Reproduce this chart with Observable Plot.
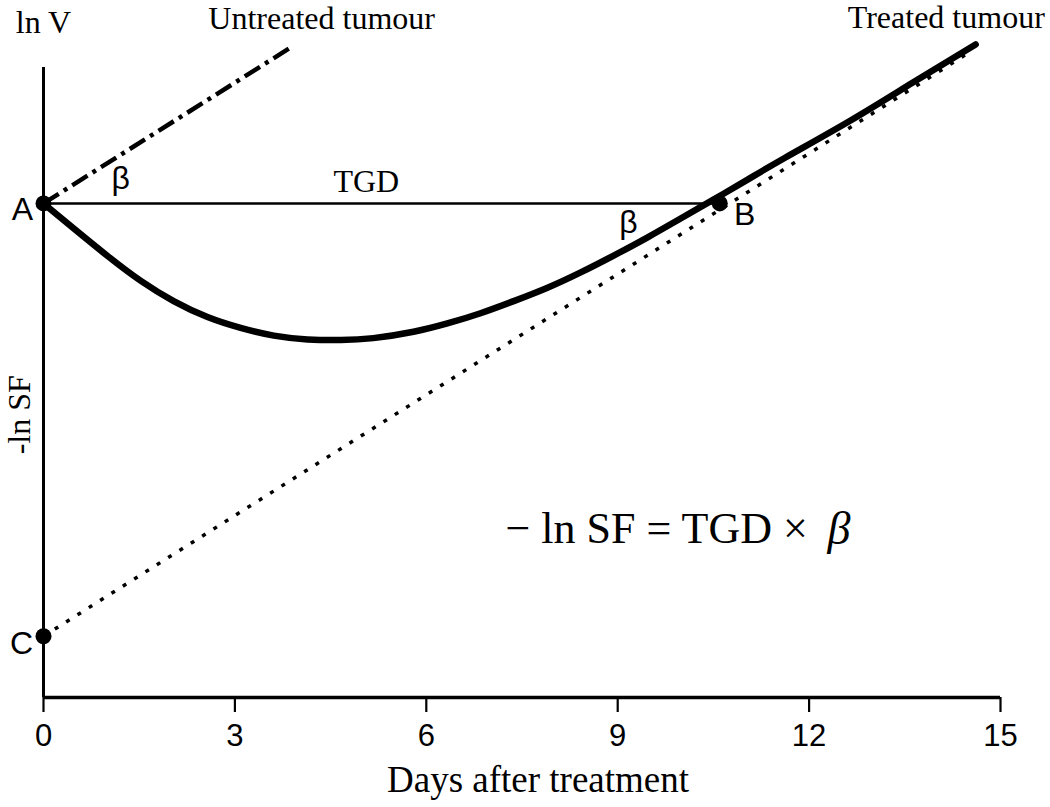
<!DOCTYPE html>
<html>
<head>
<meta charset="utf-8">
<script src="https://cdn.jsdelivr.net/npm/d3@7"></script>
<script src="https://cdn.jsdelivr.net/npm/@observablehq/plot@0.6"></script>
<style>
  html, body { margin: 0; padding: 0; background: #ffffff; }
  #chart { width: 1050px; height: 807px; }
</style>
</head>
<body>
<div id="chart"></div>
<script>
// ---------- data ----------
const dayTicks = [0, 3, 6, 9, 12, 15];
const xExtent = [0, 15];
const yExtent = [-7.74, 2.13];

// treated tumour: ln V vs days
const treatedDays = [0, 0.47, 1.00, 1.52, 2.04, 2.57, 3.09, 3.61, 4.14, 4.66, 5.17, 5.80, 6.33, 6.85,
  7.37, 7.90, 8.42, 8.93, 9.47, 9.98, 10.50, 11.03, 11.63, 12.65, 13.62, 14.61];
const treatedLnV = [0, -0.39, -0.82, -1.21, -1.53, -1.78, -1.95, -2.07, -2.13, -2.14, -2.11, -2.01, -1.88, -1.72,
  -1.53, -1.32, -1.08, -0.82, -0.53, -0.24, 0.06, 0.37, 0.72, 1.30, 1.89, 2.49];

// untreated tumour (slope beta from A)
const untreatedDays = [0, 3.9];
const untreatedLnV = [0, 2.46];

// extrapolated regrowth line from C (slope beta)
const regrowthDays = [0, 14.5];
const regrowthLnV = [-6.78, 2.36];

// TGD segment A -> B
const tgdDays = [0, 10.6];
const tgdLnV = [0, 0];

// marked points
const pointNames = ["A", "B", "C"];
const pointDays = [0, 10.6, 0];
const pointLnV = [0, 0, -6.78];

// annotation texts
const annotationText = ["ln V", "Untreated tumour", "Treated tumour", "TGD"];
const annotationDays = [0, 4.36, 14.15, 5.06];
const annotationLnV = [2.83, 2.89, 2.91, 0.34];

const betaText = ["β", "β"];
const betaDays = [1.21, 9.17];
const betaLnV = [0.39, -0.31];

const sfLabelText = ["-ln SF"];
const sfLabelDays = [0];
const sfLabelLnV = [-3.31];

const equationMain = ["− ln SF = TGD ×"];
const equationBeta = ["β"];
const equationDays = [10];
const equationLnV = [-5.1];

const xTitle = ["Days after treatment"];

// ---------- build tables ----------
const zip = (ts, vs, extra) => ts.map((t, i) => ({t, v: vs[i], label: extra ? extra[i] : undefined}));
const treated = zip(treatedDays, treatedLnV);
const untreated = zip(untreatedDays, untreatedLnV);
const regrowth = zip(regrowthDays, regrowthLnV);
const tgd = zip(tgdDays, tgdLnV);
const points = zip(pointDays, pointLnV, pointNames);
const annotations = zip(annotationDays, annotationLnV, annotationText);
const betas = zip(betaDays, betaLnV, betaText);
const sfLabel = zip(sfLabelDays, sfLabelLnV, sfLabelText);
const eqMain = zip(equationDays, equationLnV, equationMain);
const eqBeta = zip(equationDays, equationLnV, equationBeta);

const serif = "Liberation Serif, Times New Roman, serif";
const sans = "Liberation Sans, Arial, sans-serif";

const chart = Plot.plot({
  width: 1050,
  height: 807,
  marginLeft: 43,
  marginRight: 50,
  marginTop: 67,
  marginBottom: 110,
  style: {background: "#ffffff", color: "#000000", fontFamily: serif},
  x: {domain: xExtent},
  y: {domain: yExtent, axis: null},
  marks: [
    // axes frame
    Plot.ruleY([yExtent[0]], {stroke: "#000", strokeWidth: 3.5}),
    Plot.ruleX([xExtent[0]], {stroke: "#000", strokeWidth: 3}),
    Plot.axisX({ticks: dayTicks, tickSize: 15, tickPadding: 11, fontSize: 31, fontFamily: sans,
      stroke: "#000", strokeWidth: 2.2, label: null}),
    Plot.text(xTitle, {text: d => d, frameAnchor: "bottom", lineAnchor: "middle", dy: 83, dx: 16,
      fontSize: 37, fontFamily: serif, fill: "#000"}),

    // lines
    Plot.line(tgd, {x: "t", y: "v", stroke: "#000", strokeWidth: 2.5}),
    Plot.line(regrowth, {x: "t", y: "v", stroke: "#000", strokeWidth: 3.5, strokeDasharray: "4,9.4", strokeLinecap: "butt"}),
    Plot.line(untreated, {x: "t", y: "v", stroke: "#000", strokeWidth: 4.5, strokeDasharray: "18,6,4,6", strokeLinecap: "butt"}),
    Plot.line(treated, {x: "t", y: "v", curve: "natural", stroke: "#000", strokeWidth: 6.5, strokeLinecap: "round"}),

    // points
    Plot.dot(points, {x: "t", y: "v", r: 8, fill: "#000", stroke: null}),
    Plot.text(points.filter(d => d.label === "A"), {x: "t", y: "v", text: "label", dx: -21, dy: 6, fontSize: 32, fontFamily: sans, fill: "#000"}),
    Plot.text(points.filter(d => d.label === "B"), {x: "t", y: "v", text: "label", dx: 25, dy: 11, fontSize: 32, fontFamily: sans, fill: "#000"}),
    Plot.text(points.filter(d => d.label === "C"), {x: "t", y: "v", text: "label", dx: -22, dy: 8, fontSize: 32, fontFamily: sans, fill: "#000"}),

    // annotations
    Plot.text(annotations, {x: "t", y: "v", text: "label", fontSize: 32, fontFamily: serif, fill: "#000"}),
    Plot.text(betas, {x: "t", y: "v", text: "label", fontSize: 32, fontFamily: sans, fill: "#000"}),
    Plot.text(sfLabel, {x: "t", y: "v", text: "label", rotate: -90, dx: -24, fontSize: 32, fontFamily: serif, fill: "#000"}),

    // equation
    Plot.text(eqMain, {x: "t", y: "v", text: "label", textAnchor: "start", dx: -176, fontSize: 44, fontFamily: serif, fill: "#000", ariaLabel: "equation"}),
    Plot.text(eqBeta, {x: "t", y: "v", text: "label", textAnchor: "start", dx: 146, fontSize: 46, fontStyle: "italic", fontFamily: serif, fill: "#000", ariaLabel: "equation-beta"})
  ]
});

document.getElementById("chart").appendChild(chart);

// light box behind the equation
(function () {
  const svg = chart.tagName.toLowerCase() === "svg" ? chart : chart.querySelector("svg");
  const g1 = svg.querySelector('g[aria-label="equation"]');
  const g2 = svg.querySelector('g[aria-label="equation-beta"]');
  if (!g1 || !g2) return;
  const sr = svg.getBoundingClientRect();
  const r1 = g1.getBoundingClientRect(), r2 = g2.getBoundingClientRect();
  const x0 = Math.min(r1.left, r2.left) - sr.left - 12;
  const x1 = Math.max(r1.right, r2.right) - sr.left + 12;
  const y0 = Math.min(r1.top, r2.top) - sr.top - 14;
  const y1 = Math.max(r1.bottom, r2.bottom) - sr.top + 6;
  const rect = document.createElementNS("http://www.w3.org/2000/svg", "rect");
  rect.setAttribute("x", x0);
  rect.setAttribute("y", y0);
  rect.setAttribute("width", x1 - x0);
  rect.setAttribute("height", y1 - y0);
  rect.setAttribute("fill", "#f6f6f6");
  g1.parentNode.insertBefore(rect, g1);
})();
</script>
</body>
</html>
